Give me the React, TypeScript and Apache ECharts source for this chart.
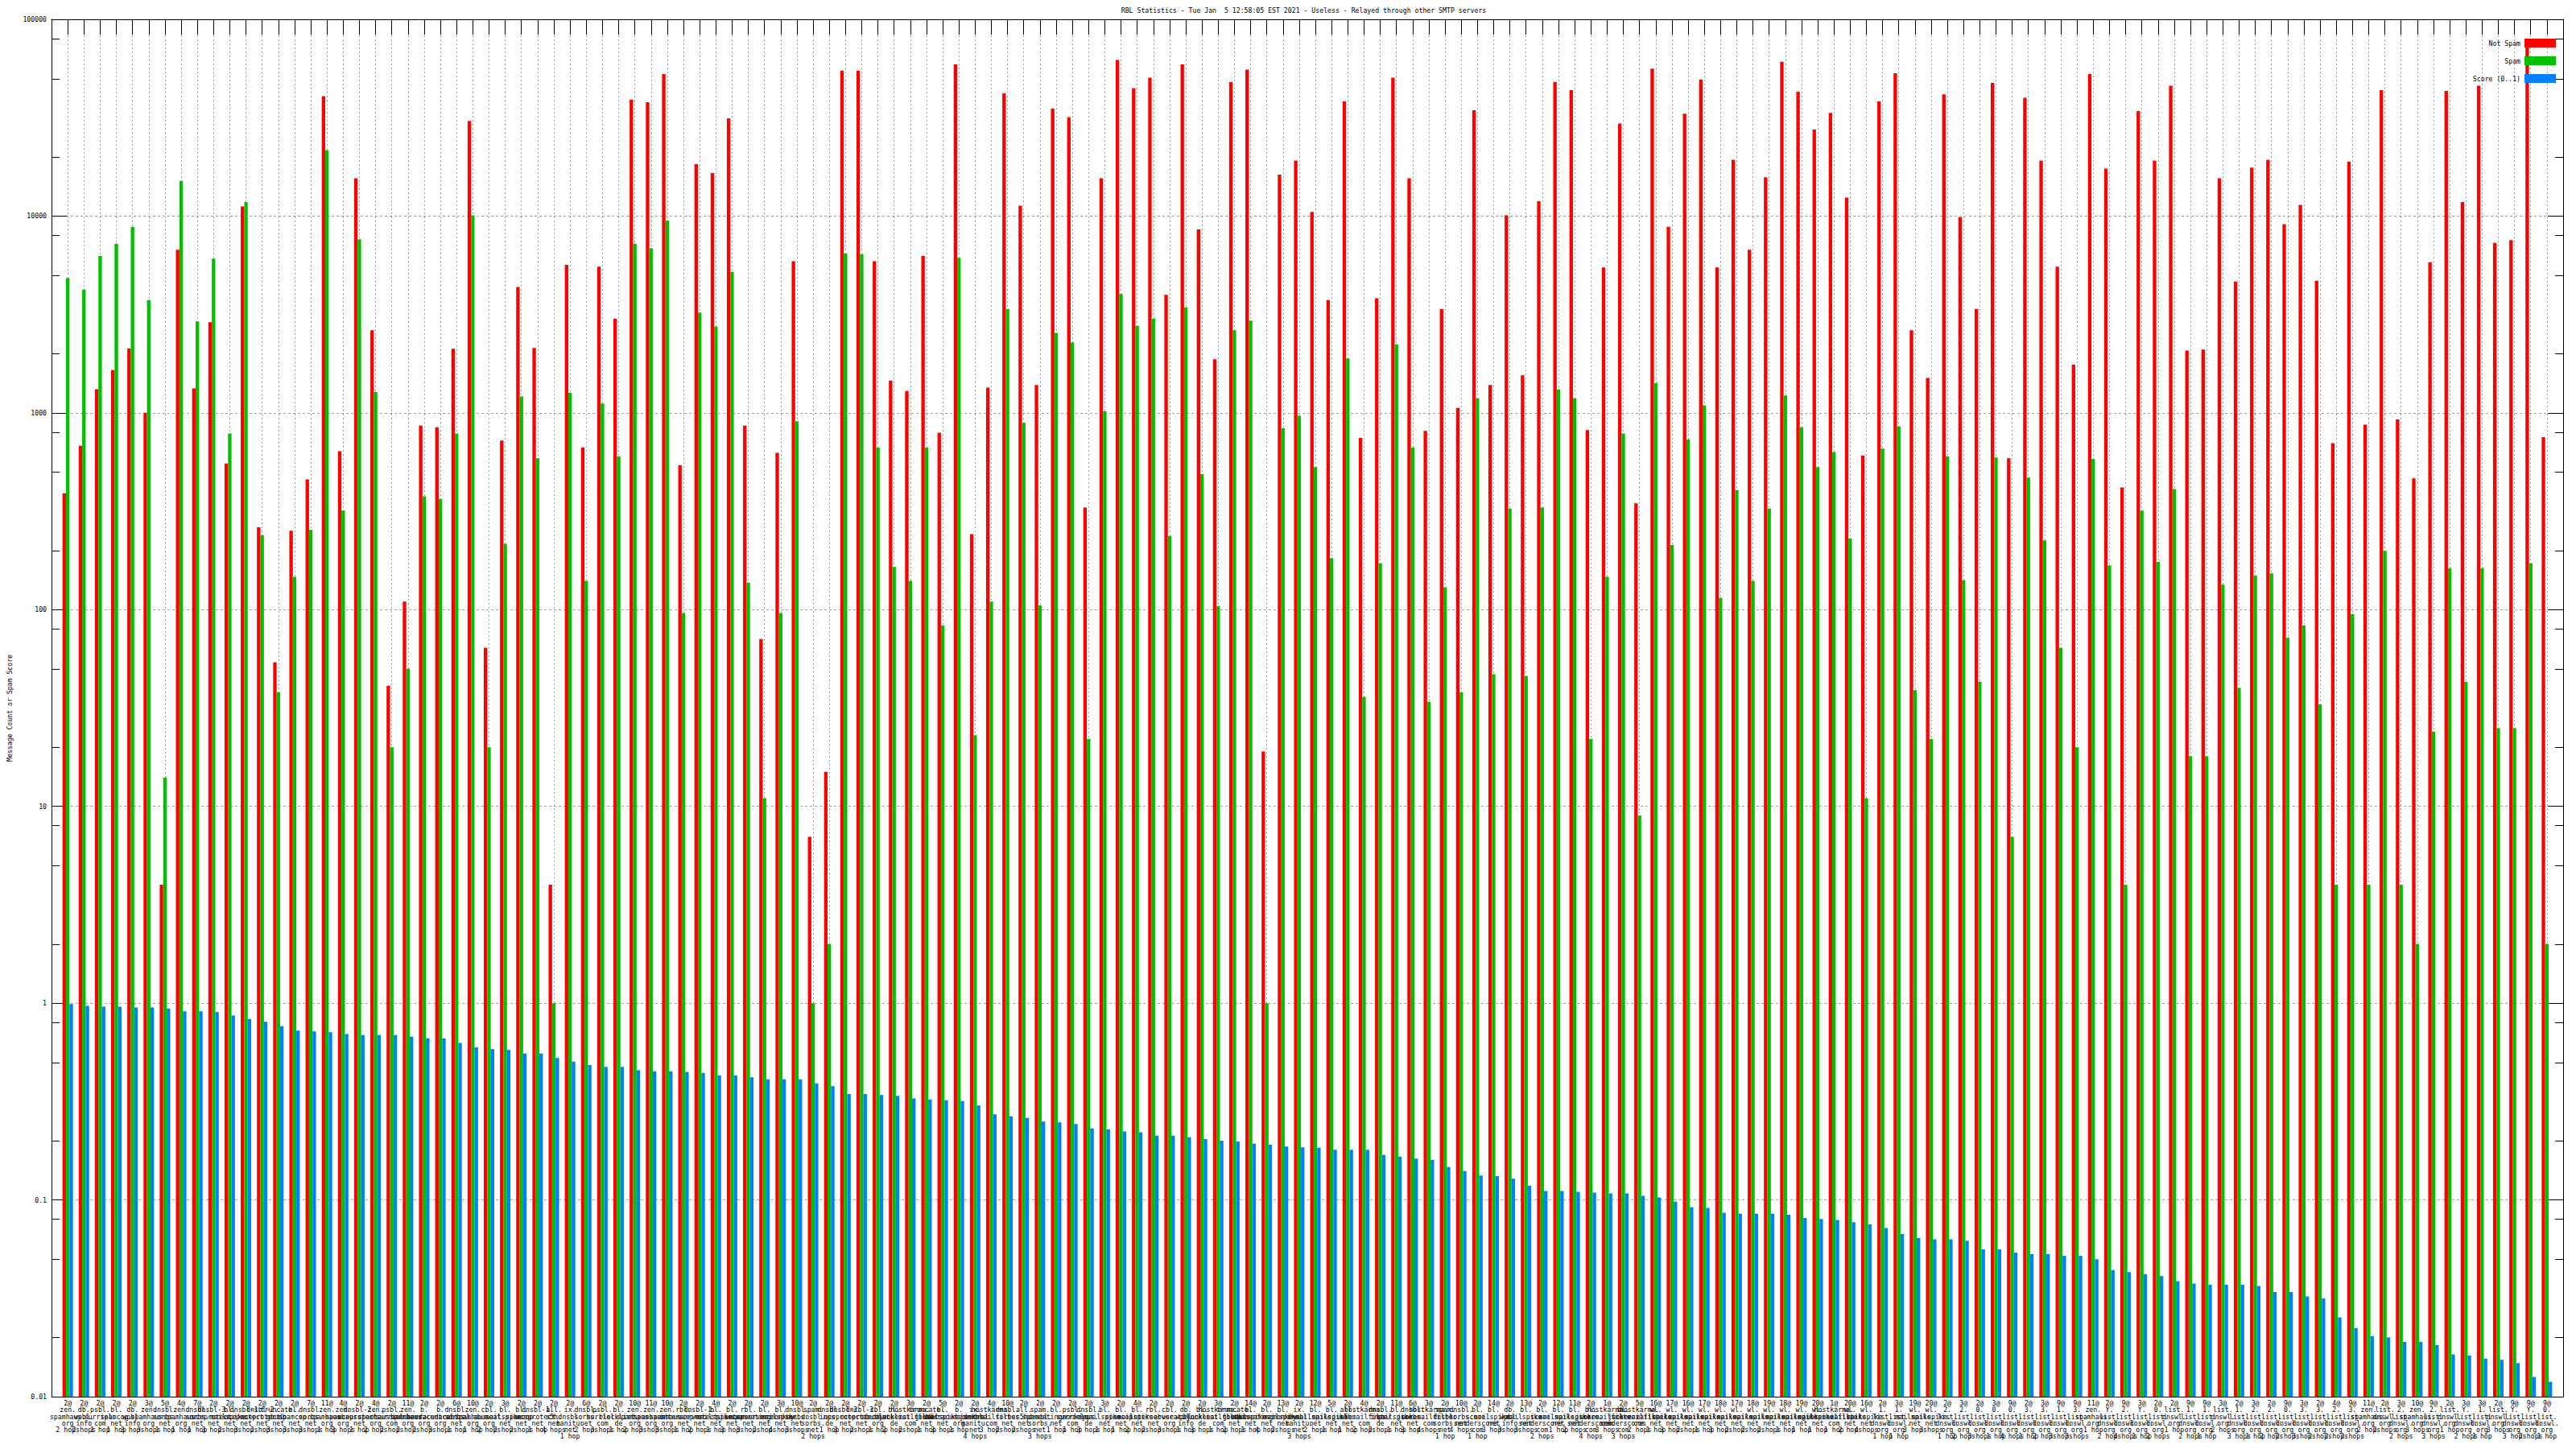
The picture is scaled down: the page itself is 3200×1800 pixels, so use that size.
import React, { useEffect, useRef } from 'react';
import * as echarts from 'echarts';

const TITLE = 'RBL Statistics - Tue Jan  5 12:58:05 EST 2021 - Useless - Relayed through other SMTP servers';
const Y_NAME = 'Message Count or Spam Score';
const SERIES_NAMES = ['Not Spam', 'Spam', 'Score (0..1)'];
const COLORS = ['#ff0000', '#00c000', '#0080ff'];
const FONT = '"DejaVu Sans Mono", "Liberation Mono", monospace';

// [return code, rbl zone, hops]
const rblEntries: [number, string, number][] = [
  [2, 'zen.spamhaus.org', 2], [2, 'db.wpbl.info', 2], [2, 'psbl.surriel.com', 1], [2, 'bl.spamcop.net', 1],
  [2, 'db.wpbl.info', 3], [3, 'zen.spamhaus.org', 3], [5, 'dnsbl.sorbs.net', 1], [4, 'zen.spamhaus.org', 1],
  [7, 'dnsbl.sorbs.net', 1], [2, 'dnsbl-3.uceprotect.net', 3], [2, 'bl.mailspike.net', 2], [2, 'dnsbl-1.uceprotect.net', 3],
  [2, 'dnsbl-2.uceprotect.net', 2], [2, 'truncate.gbudb.net', 3], [2, 'bl.spamcop.net', 3], [7, 'dnsbl.sorbs.net', 3],
  [11, 'zen.spamhaus.org', 1], [4, 'zen.spamhaus.org', 3], [2, 'dnsbl-2.uceprotect.net', 1], [4, 'zen.spamhaus.org', 2],
  [2, 'psbl.surriel.com', 2], [11, 'zen.spamhaus.org', 2], [2, 'b.barracudacentral.org', 2], [2, 'b.barracudacentral.org', 3],
  [6, 'dnsbl.sorbs.net', 1], [10, 'zen.spamhaus.org', 1], [2, 'cbl.abuseat.org', 2], [3, 'bl.mailspike.net', 2],
  [2, 'bl.spamcop.net', 2], [2, 'dnsbl-1.uceprotect.net', 1], [2, 'all.s5h.net', 4], [2, 'ix.dnsbl.manitu.net', 1],
  [6, 'dnsbl.sorbs.net', 2], [2, 'psbl.surriel.com', 3], [2, 'bl.blocklist.de', 1], [10, 'zen.spamhaus.org', 2],
  [11, 'zen.spamhaus.org', 3], [10, 'zen.spamhaus.org', 3], [2, 'rbl.interserver.net', 1], [2, 'dnsbl-1.uceprotect.net', 2],
  [4, 'bl.mailspike.net', 1], [2, 'bl.spamcop.net', 3], [2, 'rbl.interserver.net', 3], [2, 'bl.spameatingmonkey.net', 2],
  [3, 'bl.mailspike.net', 4], [10, 'dnsbl.sorbs.net', 3], [2, 'spam.dnsbl.sorbs.net', 2], [2, 'dnsbl.inps.de', 1],
  [2, 'dnsbl-2.uceprotect.net', 3], [2, 'dnsbl-3.uceprotect.net', 2], [2, 'cbl.abuseat.org', 1], [2, 'bl.blocklist.de', 2],
  [3, 'hostkarma.junkemailfilter.com', 2], [2, 'truncate.gbudb.net', 1], [5, 'bl.mailspike.net', 3], [2, 'b.barracudacentral.org', 1],
  [2, 'ix.dnsbl.manitu.net', 4], [4, 'hostkarma.junkemailfilter.com', 3], [10, 'dnsbl.sorbs.net', 2], [2, 'all.s5h.net', 2],
  [2, 'spam.dnsbl.sorbs.net', 3], [2, 'bl.spameatingmonkey.net', 1], [2, 'psbl.surriel.com', 1], [2, 'dnsbl.inps.de', 3],
  [3, 'bl.mailspike.net', 1], [2, 'bl.spamcop.net', 1], [4, 'bl.mailspike.net', 2], [2, 'rbl.interserver.net', 2],
  [2, 'cbl.abuseat.org', 3], [2, 'db.wpbl.info', 1], [2, 'bl.blocklist.de', 3], [3, 'hostkarma.junkemailfilter.com', 1],
  [2, 'truncate.gbudb.net', 2], [14, 'bl.mailspike.net', 1], [2, 'bl.spameatingmonkey.net', 4], [13, 'bl.mailspike.net', 2],
  [2, 'ix.dnsbl.manitu.net', 3], [12, 'bl.mailspike.net', 2], [5, 'bl.mailspike.net', 1], [2, 'all.s5h.net', 1],
  [4, 'hostkarma.junkemailfilter.com', 2], [2, 'dnsbl.inps.de', 2], [11, 'bl.mailspike.net', 1], [6, 'dnsbl.sorbs.net', 3],
  [3, 'hostkarma.junkemailfilter.com', 4], [2, 'spam.dnsbl.sorbs.net', 1], [10, 'dnsbl.sorbs.net', 4], [2, 'bl.score.senderscore.com', 1],
  [14, 'bl.mailspike.net', 3], [2, 'db.wpbl.info', 3], [13, 'bl.mailspike.net', 3], [2, 'bl.score.senderscore.com', 2],
  [12, 'bl.mailspike.net', 1], [11, 'bl.mailspike.net', 2], [2, 'bl.score.senderscore.com', 4], [1, 'hostkarma.junkemailfilter.com', 3],
  [2, 'bl.score.senderscore.com', 3], [5, 'hostkarma.junkemailfilter.com', 2], [16, 'wl.mailspike.net', 1], [17, 'wl.mailspike.net', 3],
  [16, 'wl.mailspike.net', 2], [17, 'wl.mailspike.net', 1], [18, 'wl.mailspike.net', 3], [17, 'wl.mailspike.net', 2],
  [18, 'wl.mailspike.net', 2], [19, 'wl.mailspike.net', 2], [18, 'wl.mailspike.net', 1], [19, 'wl.mailspike.net', 1],
  [20, 'wl.mailspike.net', 1], [1, 'hostkarma.junkemailfilter.com', 1], [20, 'wl.mailspike.net', 2], [16, 'wl.mailspike.net', 4],
  [2, '1.list.dnswl.org', 1], [3, '1.list.dnswl.org', 1], [19, 'wl.mailspike.net', 3], [20, 'wl.mailspike.net', 3],
  [2, '2.list.dnswl.org', 1], [3, '2.list.dnswl.org', 2], [2, '0.list.dnswl.org', 3], [3, '0.list.dnswl.org', 1],
  [9, '0.list.dnswl.org', 4], [2, '3.list.dnswl.org', 1], [3, '3.list.dnswl.org', 2], [9, '1.list.dnswl.org', 3],
  [9, '3.list.dnswl.org', 3], [11, 'zen.spamhaus.org', 1], [2, 'Y.list.dnswl.org', 2], [9, '2.list.dnswl.org', 4],
  [3, 'Y.list.dnswl.org', 1], [2, '0.list.dnswl.org', 2], [2, 'list.dnswl.org', 1], [9, '1.list.dnswl.org', 2],
  [9, '1.list.dnswl.org', 1], [3, 'list.dnswl.org', 2], [2, '1.list.dnswl.org', 3], [3, '2.list.dnswl.org', 1],
  [2, '2.list.dnswl.org', 2], [9, '0.list.dnswl.org', 2], [3, '3.list.dnswl.org', 3], [2, '3.list.dnswl.org', 2],
  [4, '2.list.dnswl.org', 2], [9, '3.list.dnswl.org', 2], [11, 'zen.spamhaus.org', 2], [2, 'list.dnswl.org', 2],
  [3, '2.list.dnswl.org', 2], [10, 'zen.spamhaus.org', 3], [9, '2.list.dnswl.org', 3], [2, 'list.dnswl.org', 1],
  [3, 'Y.list.dnswl.org', 2], [3, '1.list.dnswl.org', 1], [2, 'list.dnswl.org', 3], [9, 'Y.list.dnswl.org', 3],
  [9, 'Y.list.dnswl.org', 2], [9, '0.list.dnswl.org', 1],
];

const notSpam = [
  390, 680, 1320, 1650, 2120, 1000, 4, 6740, 1330, 2890, 553, 11180, 262, 54, 252, 459, 40650, 639, 15560, 2630,
  41, 110, 861, 844, 2117, 30460, 64, 723, 4365, 2138, 4, 5654, 666, 5537, 3008, 39050, 37870, 52700, 541, 18360,
  16560, 31420, 861, 71, 626, 5890, 7, 15, 54900, 54900, 5890, 1460, 1290, 6270, 793, 59070, 242, 1344, 42000, 11300,
  1387, 35200, 31760, 330, 15560, 62200, 44670, 50550, 3980, 59070, 8550, 1871, 48000, 55500, 19, 16220, 19150, 10510, 3741, 38260,
  746, 3820, 50550, 15560, 809, 3373, 1059, 34500, 1387, 10080, 1553, 11900, 48000, 43700, 818, 5480, 29520, 347, 56100, 8813,
  33100, 49500, 5480, 19330, 6740, 15730, 60900, 42850, 27480, 33430, 12400, 606, 38260, 53200, 2630, 1506, 41500, 9880, 3373, 47500,
  588, 39900, 19150, 5537, 1758, 52700, 17430, 418, 34130, 19150, 46000, 2074, 2095, 15560, 4645, 17620, 19330, 9100, 11400, 4690,
  701, 18930, 871, 43700, 927, 464, 5830, 43280, 11780, 46000, 7310, 7550, 75000, 753,
];

const spam = [
  4840, 4235, 6270, 7244, 8813, 3741, 14, 15090, 2917, 6080, 785, 11780, 239, 38, 147, 254, 21660, 319, 7630, 1276,
  20, 50, 377, 365, 785, 10080, 20, 216, 1212, 588, 1, 1263, 140, 1116, 600, 7244, 6880, 9480, 96, 3235,
  2742, 5203, 137, 11, 96, 907, 1, 2, 6467, 6400, 666, 165, 140, 666, 83, 6140, 23, 110, 3373, 889,
  105, 2552, 2277, 22, 1017, 4018, 2772, 3008, 237, 3441, 488, 104, 2630, 2946, 1, 835, 966, 530, 183, 1890,
  36, 172, 2230, 666, 34, 130, 38, 1187, 47, 326, 46, 330, 1316, 1187, 22, 147, 785, 9, 1415, 213,
  731, 1093, 115, 405, 140, 326, 1225, 844, 530, 632, 230, 11, 659, 853, 39, 22, 600, 141, 43, 594,
  7, 469, 225, 64, 20, 582, 168, 4, 319, 175, 410, 18, 18, 134, 40, 149, 153, 72, 83, 33,
  4, 95, 4, 199, 4, 2, 24, 162, 43, 162, 25, 25, 172, 2,
];

const score = [
  0.99, 0.97, 0.96, 0.96, 0.95, 0.95, 0.94, 0.91, 0.91, 0.9, 0.865, 0.83, 0.805, 0.764, 0.726, 0.718, 0.711, 0.696, 0.689, 0.689,
  0.689, 0.675, 0.661, 0.661, 0.628, 0.596, 0.584, 0.578, 0.555, 0.555, 0.527, 0.505, 0.485, 0.475, 0.475, 0.456, 0.451, 0.451, 0.447, 0.442,
  0.429, 0.429, 0.42, 0.41, 0.41, 0.41, 0.39, 0.379, 0.345, 0.345, 0.341, 0.338, 0.328, 0.324, 0.321, 0.318, 0.302, 0.272, 0.266, 0.261,
  0.25, 0.248, 0.243, 0.231, 0.228, 0.223, 0.221, 0.212, 0.212, 0.208, 0.204, 0.2, 0.198, 0.193, 0.191, 0.187, 0.185, 0.184, 0.18, 0.18,
  0.18, 0.169, 0.166, 0.162, 0.16, 0.147, 0.14, 0.133, 0.132, 0.128, 0.118, 0.111, 0.111, 0.11, 0.109, 0.108, 0.108, 0.105, 0.103, 0.098,
  0.092, 0.091, 0.086, 0.085, 0.085, 0.085, 0.084, 0.081, 0.08, 0.079, 0.077, 0.075, 0.072, 0.067, 0.064, 0.063, 0.063, 0.062, 0.056, 0.056,
  0.054, 0.053, 0.053, 0.052, 0.052, 0.05, 0.044, 0.043, 0.042, 0.041, 0.0386, 0.0376, 0.037, 0.037, 0.037, 0.0365, 0.034, 0.034, 0.0323, 0.0316,
  0.0253, 0.0223, 0.0203, 0.02, 0.019, 0.019, 0.0183, 0.0164, 0.0162, 0.0156, 0.0154, 0.0148, 0.0126, 0.0119,
];

const yTickLabels = ['0.01', '0.1', '1', '10', '100', '1000', '10000', '100000'];
const yMinorTicks = [
  0.02, 0.05, 0.08, 0.2, 0.5, 0.8, 2, 5, 8, 20, 50, 80, 200, 500, 800, 2000, 5000, 8000, 20000, 50000, 80000,
];

function makeLabel(e: [number, string, number]): string {
  const [code, zone, hops] = e;
  const parts = zone.split('.');
  const zoneLines = parts.map((p, i) => (i < parts.length - 1 ? p + '.' : p)).join('\n');
  return `${code}@\n${zoneLines}\n${hops} hop${hops === 1 ? '' : 's'}`;
}

export default function App() {
  const ref = useRef<HTMLDivElement>(null);

  useEffect(() => {
    if (!ref.current) return;
    const chart = echarts.init(ref.current, undefined, { renderer: 'svg' });

    // one empty slot on each side so the first/last groups sit one unit inside the frame
    const cats = ['', ...rblEntries.map(makeLabel), ''];
    const pad = (arr: number[]) => ['-', ...arr, '-'];

    const gridLeft = 55;
    const gridTop = 24;
    const gridRight = 16;
    const gridBottom = 65;

    const textStyle = { fontFamily: FONT, fontSize: 8.2, color: '#000' };

    const option: any = {
      animation: false,
      backgroundColor: '#ffffff',
      textStyle: { fontFamily: FONT },
      grid: { left: gridLeft, top: gridTop, right: gridRight, bottom: gridBottom, containLabel: false },
      graphic: [
        {
          type: 'text',
          x: gridLeft + (3200 - gridLeft - gridRight) / 2,
          y: 13,
          silent: true,
          style: {
            text: TITLE,
            fill: '#000',
            fontFamily: FONT,
            fontSize: 8.2,
            align: 'center',
            verticalAlign: 'middle',
          },
        },
      ],
      legend: {
        data: SERIES_NAMES,
        orient: 'vertical',
        right: 25,
        top: 48,
        align: 'right',
        itemWidth: 39,
        itemHeight: 11,
        itemGap: 11,
        icon: 'rect',
        padding: 0,
        selectedMode: false,
        textStyle,
      },
      xAxis: [
        {
          type: 'category',
          data: cats,
          boundaryGap: false,
          position: 'bottom',
          axisLine: { show: true, onZero: false, lineStyle: { color: '#000', width: 1 } },
          axisTick: { show: true, inside: true, length: 19, interval: 0, lineStyle: { color: '#000' } },
          axisLabel: {
            show: true,
            interval: 0,
            margin: 4,
            fontFamily: FONT,
            fontSize: 8.2,
            lineHeight: 8.25,
            color: '#000',
            hideOverlap: false,
          },
          splitLine: { show: true, interval: 0, lineStyle: { color: '#a0a0a0', width: 1, type: [2, 3] } },
        },
        {
          type: 'category',
          data: cats,
          boundaryGap: false,
          position: 'top',
          axisLine: { show: true, onZero: false, lineStyle: { color: '#000', width: 1 } },
          axisTick: { show: true, inside: true, length: 19, interval: 0, lineStyle: { color: '#000' } },
          axisLabel: { show: false },
          splitLine: { show: false },
        },
      ],
      yAxis: [
        {
          type: 'log',
          logBase: 10,
          min: 0.01,
          max: 100000,
          startValue: 0.01,
          position: 'left',
          name: Y_NAME,
          nameLocation: 'middle',
          nameGap: 48,
          nameRotate: 90,
          nameTextStyle: textStyle,
          axisLine: { show: true, onZero: false, lineStyle: { color: '#000', width: 1 } },
          axisTick: { show: true, inside: true, length: 19, lineStyle: { color: '#000' } },
          axisLabel: {
            show: true,
            margin: 6,
            fontFamily: FONT,
            fontSize: 8.2,
            color: '#000',
            formatter: (v: number) => {
              const k = Math.round(Math.log10(v)) + 2;
              return yTickLabels[k] ?? '';
            },
          },
          splitLine: { show: true, lineStyle: { color: '#a0a0a0', width: 1, type: [3, 3] } },
        },
        {
          type: 'log',
          logBase: 10,
          min: 0.01,
          max: 100000,
          position: 'right',
          axisLine: { show: true, onZero: false, lineStyle: { color: '#000', width: 1 } },
          axisTick: { show: true, inside: true, length: 19, lineStyle: { color: '#000' } },
          axisLabel: { show: false },
          splitLine: { show: false },
        },
      ],
      series: [
        {
          name: SERIES_NAMES[0],
          type: 'bar',
          xAxisIndex: 0,
          yAxisIndex: 0,
          data: pad(notSpam),
          barWidth: 4.33,
          barGap: '0%',
          itemStyle: { color: COLORS[0] },
          z: 3,
        },
        {
          name: SERIES_NAMES[1],
          type: 'bar',
          xAxisIndex: 0,
          yAxisIndex: 0,
          data: pad(spam),
          barWidth: 4.33,
          barGap: '0%',
          itemStyle: { color: COLORS[1] },
          z: 3,
        },
        {
          name: SERIES_NAMES[2],
          type: 'bar',
          xAxisIndex: 0,
          yAxisIndex: 0,
          data: pad(score),
          barWidth: 4.33,
          barGap: '0%',
          itemStyle: { color: COLORS[2] },
          z: 3,
        },
        {
          name: 'minor-ticks',
          type: 'custom',
          xAxisIndex: 0,
          yAxisIndex: 0,
          silent: true,
          clip: false,
          z: 4,
          encode: { x: 0, y: 1 },
          data: yMinorTicks.map((v) => [0, v]),
          renderItem: (params: any, api: any) => {
            const v = api.value(1);
            const p = api.coord([0, v]);
            const cs = params.coordSys;
            const y = Math.round(p[1]) + 0.5;
            return {
              type: 'group',
              children: [
                { type: 'line', shape: { x1: cs.x, y1: y, x2: cs.x + 10, y2: y }, style: { stroke: '#000', lineWidth: 1 } },
                {
                  type: 'line',
                  shape: { x1: cs.x + cs.width - 10, y1: y, x2: cs.x + cs.width, y2: y },
                  style: { stroke: '#000', lineWidth: 1 },
                },
              ],
            };
          },
        },
      ],
    };

    chart.setOption(option);
    return () => chart.dispose();
  }, []);

  return (
    <div
      ref={ref}
      style={{ position: 'absolute', left: 0, top: 0, width: 3200, height: 1800, background: '#fff' }}
    />
  );
}
